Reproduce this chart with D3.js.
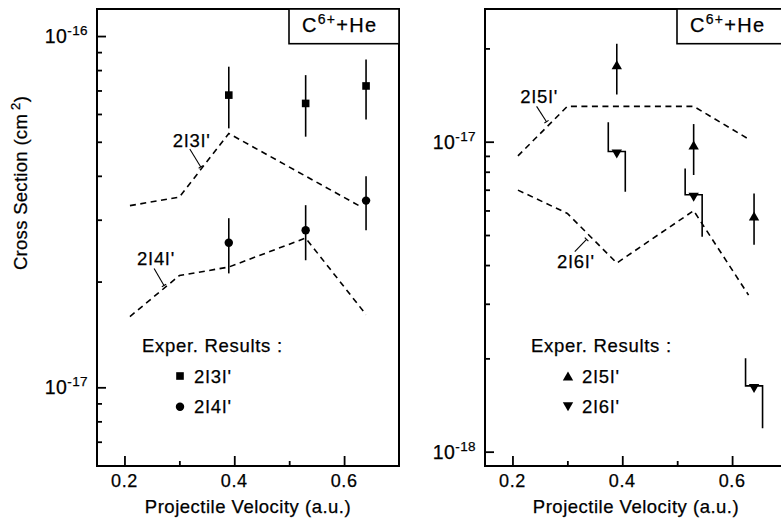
<!DOCTYPE html>
<html><head><meta charset="utf-8">
<script src="https://cdn.jsdelivr.net/npm/d3@7"></script>
<style>
body{margin:0;background:#fff}
svg{display:block}
text{font-family:"Liberation Sans",Arial,Helvetica,sans-serif;fill:#000;stroke:#000;stroke-width:0.25px}
</style>
</head><body>
<svg id="chart" width="781" height="518"></svg>
<script>
// ---------------- data ----------------
const velocityDomain = [0.15, 0.70];
const velocityMajor = [0.2, 0.4, 0.6];
const velocityMinor = [0.3, 0.5];
const velocityLabels = ["0.2", "0.4", "0.6"];
const expVelocity = [0.39, 0.53, 0.64];

// left panel (2l3l', 2l4l')
const leftDomain = [5.97e-18, 1.194e-16];
const leftDecades = [1e-17, 1e-16];
const leftDecadeLabels = ["-17", "-16"];
const exp2l3 = [6.79e-17, 6.43e-17, 7.21e-17];
const exp2l3Hi = [8.18e-17, 7.74e-17, 8.58e-17];
const exp2l3Lo = [5.46e-17, 5.17e-17, 5.79e-17];
const exp2l4 = [2.58e-17, 2.80e-17, 3.40e-17];
const exp2l4Hi = [3.03e-17, 3.30e-17, 3.99e-17];
const exp2l4Lo = [2.11e-17, 2.30e-17, 2.80e-17];
const th2l3V = [0.21, 0.30, 0.39, 0.63];
const th2l3 = [3.29e-17, 3.48e-17, 5.28e-17, 3.27e-17];
const th2l4V = [0.21, 0.30, 0.39, 0.53, 0.64];
const th2l4 = [1.59e-17, 2.08e-17, 2.20e-17, 2.66e-17, 1.61e-17];

// right panel (2l5l', 2l6l')
const rightDomain = [8.99e-19, 2.68e-17];
const rightDecades = [1e-18, 1e-17];
const rightDecadeLabels = ["-18", "-17"];
const exp2l5 = [1.77e-17, 9.76e-18, 5.76e-18];
const exp2l5Hi = [2.07e-17, 1.14e-17, 6.81e-18];
const exp2l5Lo = [1.42e-17, 7.81e-18, 4.65e-18];
const exp2l6 = [9.13e-18, 6.62e-18, 1.60e-18];
const exp2l6Hi = [1.156e-17, 8.20e-18, 2.00e-18];
const exp2l6Lo = [6.90e-18, 4.94e-18, 1.19e-18];
const th2l5V = [0.21, 0.30, 0.53, 0.63];
const th2l5 = [9.0e-18, 1.30e-17, 1.30e-17, 1.02e-17];
const th2l6V = [0.21, 0.30, 0.39, 0.53, 0.63];
const th2l6 = [6.98e-18, 5.87e-18, 4.06e-18, 5.99e-18, 3.20e-18];

// curve annotations: [label, textV, textY, leaderV1, leaderY1, leaderV2, leaderY2]
const leftNotes = [
  ["2l3l'", 0.288, 4.83e-17, 0.319, 4.77e-17, 0.339, 4.24e-17],
  ["2l4l'", 0.223, 2.23e-17, 0.254, 2.18e-17, 0.272, 1.95e-17]
];
const rightNotes = [
  ["2l5l'", 0.214, 1.33e-17, 0.244, 1.30e-17, 0.262, 1.16e-17],
  ["2l6l'", 0.281, 3.92e-18, 0.3135, 4.42e-18, 0.335, 4.84e-18]
];
const titleMain = "C", titleSup = "6+", titleRest = "+He";
const legendTitle = "Exper. Results :";

// ---------------- drawing ----------------
const svg = d3.select("#chart");
const FS = 18;

const triUp = { draw(ctx, s) { const w = 5.2, h = 4.5; ctx.moveTo(0, -h); ctx.lineTo(w, h); ctx.lineTo(-w, h); ctx.closePath(); } };
const triDown = { draw(ctx, s) { const w = 5.2, h = 4.5; ctx.moveTo(0, h); ctx.lineTo(w, -h); ctx.lineTo(-w, -h); ctx.closePath(); } };
const shapes = {
  square: d3.symbol().type(d3.symbolSquare).size(58)(),
  circle: d3.symbol().type(d3.symbolCircle).size(56)(),
  up: d3.symbol().type(triUp)(),
  down: d3.symbol().type(triDown)()
};

function panel(o) {
  const g = svg.append("g");
  const x = d3.scaleLinear().domain(velocityDomain).range([o.x0, o.x1]);
  const y = d3.scaleLog().domain(o.yDomain).range([o.y1, o.y0]);

  const clipId = "clip" + o.id;
  svg.append("clipPath").attr("id", clipId).append("rect")
    .attr("x", o.x0).attr("y", o.y0).attr("width", o.x1 - o.x0).attr("height", o.y1 - o.y0);

  // x axis ticks (inward)
  const xMaj = d3.axisBottom(x).tickValues(velocityMajor).tickSize(-10).tickFormat("");
  const xMin = d3.axisBottom(x).tickValues(velocityMinor).tickSize(-5).tickFormat("");
  [xMaj, xMin].forEach(ax => {
    const a = g.append("g").attr("transform", `translate(0,${o.y1})`).call(ax);
    a.select(".domain").remove();
    a.selectAll("line").attr("stroke", "#000").attr("stroke-width", 1.8);
  });
  g.selectAll(".xlab").data(velocityMajor).join("text")
    .attr("x", d => x(d)).attr("y", o.y1 + 21)
    .attr("text-anchor", "middle").attr("font-size", FS).attr("letter-spacing", 0.6)
    .text((d, i) => velocityLabels[i]);

  // y axis ticks
  const minors = y.ticks().filter(v => {
    const p = y(v); return p > o.y0 + 3 && p < o.y1 - 3 && !o.decades.some(d => Math.abs(d - v) / d < 1e-6);
  });
  const yMaj = d3.axisLeft(y).tickValues(o.decades).tickSize(-9).tickFormat("");
  const yMin = d3.axisLeft(y).tickValues(minors).tickSize(-5).tickFormat("");
  [yMaj, yMin].forEach(ax => {
    const a = g.append("g").attr("transform", `translate(${o.x0},0)`).call(ax);
    a.select(".domain").remove();
    a.selectAll("line").attr("stroke", "#000").attr("stroke-width", 1.8);
  });
  o.decades.forEach((d, i) => {
    const t = g.append("text").attr("x", o.x0 - 9).attr("y", y(d) + 7)
      .attr("text-anchor", "end").attr("font-size", 19.5).attr("letter-spacing", 0.4);
    t.append("tspan").text("10");
    t.append("tspan").attr("font-size", 13.5).attr("dy", -8).text(o.decadeLabels[i]);
  });

  // frame
  g.append("rect").attr("x", o.x0).attr("y", o.y0).attr("width", o.x1 - o.x0).attr("height", o.y1 - o.y0)
    .attr("fill", "none").attr("stroke", "#000").attr("stroke-width", 2);

  // title box
  const bw = 110, bh = 34.7;
  g.append("rect").attr("x", o.x1 - bw).attr("y", o.y0).attr("width", bw).attr("height", bh)
    .attr("fill", "#fff").attr("stroke", "#000").attr("stroke-width", 1.6);
  const tt = g.append("text").attr("x", o.x1 - bw + 13).attr("y", o.y0 + 23).attr("font-size", 20).attr("letter-spacing", 1.3);
  tt.append("tspan").text(titleMain);
  tt.append("tspan").attr("font-size", 14).attr("dy", -8).text(titleSup);
  tt.append("tspan").attr("dy", 8).text(titleRest);

  const plot = g.append("g").attr("clip-path", `url(#${clipId})`);

  // theory dashed lines
  const line = d3.line().x(d => x(d[0])).y(d => y(d[1]));
  o.theory.forEach(t => {
    plot.append("path").datum(t.v.map((v, i) => [v, t.s[i]]))
      .attr("d", line).attr("fill", "none").attr("stroke", "#000")
      .attr("stroke-width", 1.6).attr("stroke-dasharray", "6,4.5");
  });

  // annotations
  o.notes.forEach(n => {
    g.append("text").attr("x", x(n[1])).attr("y", y(n[2])).attr("font-size", 18.5)
      .attr("letter-spacing", 1.2).text(n[0]);
    const x1 = x(n[3]), y1 = y(n[4]), x2 = x(n[5]), y2 = y(n[6]);
    g.append("line").attr("x1", x1).attr("y1", y1).attr("x2", x2).attr("y2", y2)
      .attr("stroke", "#000").attr("stroke-width", 1.1);
    const dx = x2 - x1, dy = y2 - y1, L = Math.hypot(dx, dy), px = -dy / L * 2.5, py = dx / L * 2.5;
    g.append("line").attr("x1", x2 - px).attr("y1", y2 - py).attr("x2", x2 + px).attr("y2", y2 + py)
      .attr("stroke", "#000").attr("stroke-width", 1.1);
  });

  // experimental points
  o.exp.forEach(e => {
    expVelocity.forEach((v, i) => {
      const cx = x(v), cy = y(e.s[i]), hi = y(e.hi[i]), lo = y(e.lo[i]);
      if (e.step) {
        const off = 8.5, yb = cy - 2.5;
        plot.append("path")
          .attr("d", `M${cx - off},${hi}V${yb}H${cx + off}V${lo}`)
          .attr("fill", "none").attr("stroke", "#000").attr("stroke-width", 1.6);
      } else {
        plot.append("line").attr("x1", cx).attr("x2", cx).attr("y1", hi).attr("y2", lo)
          .attr("stroke", "#000").attr("stroke-width", 1.6);
      }
      plot.append("path").attr("d", shapes[e.shape]).attr("transform", `translate(${cx},${cy})`).attr("fill", "#000");
    });
  });

  // legend
  const lx = o.legendX;
  g.append("text").attr("x", lx).attr("y", 352).attr("font-size", 18.5).attr("letter-spacing", 0.7).text(legendTitle);
  o.exp.forEach((e, i) => {
    const yy = 376 + i * 30.7;
    g.append("path").attr("d", shapes[e.shape]).attr("transform", `translate(${lx + o.legendMarkDx},${yy})`).attr("fill", "#000");
    g.append("text").attr("x", lx + o.legendMarkDx + 14).attr("y", yy + 6.7).attr("font-size", 18.5)
      .attr("letter-spacing", 1.2).text(e.name);
  });

  // x title
  g.append("text").attr("x", (o.x0 + o.x1) / 2).attr("y", 513).attr("text-anchor", "middle")
    .attr("font-size", 18.5).attr("letter-spacing", 0.5).text("Projectile Velocity (a.u.)");
}

panel({
  id: "L", x0: 97, x1: 399, y0: 9, y1: 466, yDomain: leftDomain,
  decades: leftDecades, decadeLabels: leftDecadeLabels,
  theory: [{ v: th2l3V, s: th2l3 }, { v: th2l4V, s: th2l4 }],
  exp: [
    { name: "2l3l'", s: exp2l3, hi: exp2l3Hi, lo: exp2l3Lo, shape: "square" },
    { name: "2l4l'", s: exp2l4, hi: exp2l4Hi, lo: exp2l4Lo, shape: "circle" }
  ],
  notes: leftNotes, legendX: 142, legendMarkDx: 38
});
panel({
  id: "R", x0: 485, x1: 787, y0: 9, y1: 466, yDomain: rightDomain,
  decades: rightDecades, decadeLabels: rightDecadeLabels,
  theory: [{ v: th2l5V, s: th2l5 }, { v: th2l6V, s: th2l6 }],
  exp: [
    { name: "2l5l'", s: exp2l5, hi: exp2l5Hi, lo: exp2l5Lo, shape: "up" },
    { name: "2l6l'", s: exp2l6, hi: exp2l6Hi, lo: exp2l6Lo, shape: "down", step: true }
  ],
  notes: rightNotes, legendX: 531, legendMarkDx: 37
});

// y axis title
const yt = svg.append("text").attr("transform", "translate(27,183) rotate(-90)")
  .attr("text-anchor", "middle").attr("font-size", 18.5).attr("letter-spacing", 0.3);
yt.append("tspan").text("Cross Section (cm");
yt.append("tspan").attr("font-size", 13).attr("dx", 4).attr("dy", -7).text("2");
yt.append("tspan").attr("dy", 7).text(")");
</script>
</body></html>
